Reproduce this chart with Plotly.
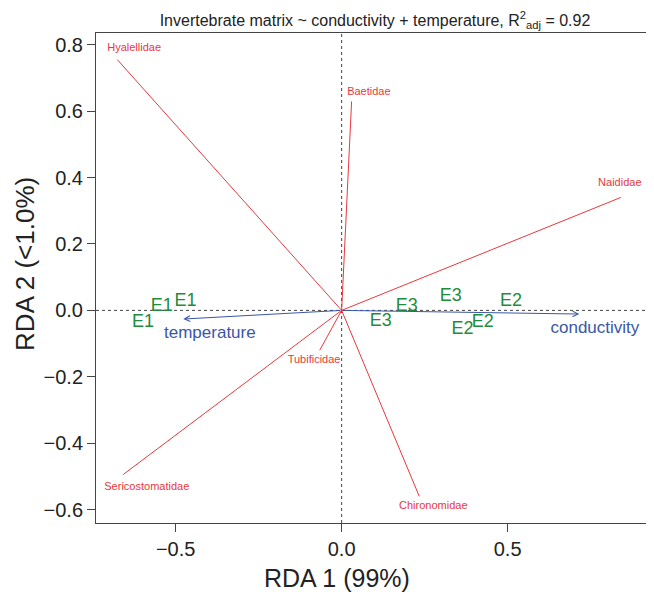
import plotly.graph_objects as go

# Species (response) loadings - red lines
species = ["Hyalellidae", "Baetidae", "Naididae", "Tubificidae", "Chironomidae", "Sericostomatidae"]
species_x = [-0.676, 0.030, 0.841, -0.066, 0.234, -0.658]
species_y = [0.755, 0.629, 0.340, -0.120, -0.560, -0.494]
species_label_x = [-0.625, 0.082, 0.838, -0.083, 0.276, -0.587]
species_label_y = [0.790, 0.658, 0.384, -0.150, -0.589, -0.532]

# Environmental vectors - blue arrows
env = ["conductivity", "temperature"]
env_x = [0.716, -0.477]
env_y = [-0.011, -0.026]
env_label_x = [0.763, -0.397]
env_label_y = [-0.054, -0.069]

# Site scores - green text
sites = ["E1", "E1", "E1", "E3", "E3", "E3", "E2", "E2", "E2"]
site_x = [-0.598, -0.542, -0.470, 0.329, 0.196, 0.118, 0.510, 0.425, 0.364]
site_y = [-0.037, 0.013, 0.026, 0.043, 0.013, -0.032, 0.026, -0.036, -0.059]

x_ticks = [-0.5, 0.0, 0.5]
x_ticklabels = ["\u22120.5", "0.0", "0.5"]
y_ticks = [0.8, 0.6, 0.4, 0.2, 0.0, -0.2, -0.4, -0.6]
y_ticklabels = ["0.8", "0.6", "0.4", "0.2", "0.0", "\u22120.2", "\u22120.4", "\u22120.6"]

x_title = "RDA 1 (99%)"
y_title = "RDA 2 (&lt;1.0%)"
main_title = "Invertebrate matrix ~ conductivity + temperature, R<sup>2</sup><sub>adj</sub> = 0.92"

RED = "#E8383D"
GREEN = "#1E8C3A"
BLUE = "#3A57A7"
FONT = "Liberation Sans, Arial, sans-serif"
TXT = "#222222"

fig = go.Figure()

# species lines
lx, ly = [], []
for sx, sy in zip(species_x, species_y):
    lx += [0, sx, None]
    ly += [0, sy, None]
fig.add_trace(go.Scatter(x=lx, y=ly, mode="lines", line=dict(color=RED, width=1),
                         hoverinfo="skip", showlegend=False))
fig.add_trace(go.Scatter(x=species_label_x, y=species_label_y, text=species, mode="text",
                         textfont=dict(color=RED, size=11, family=FONT),
                         showlegend=False))

# env arrows
for ex, ey in zip(env_x, env_y):
    fig.add_annotation(x=ex, y=ey, ax=0, ay=0, xref="x", yref="y", axref="x", ayref="y",
                       text="", showarrow=True, arrowhead=5, arrowsize=1.1, arrowwidth=1,
                       arrowcolor=BLUE, standoff=0, startstandoff=0)
fig.add_trace(go.Scatter(x=env_label_x, y=env_label_y, text=env, mode="text",
                         textfont=dict(color=BLUE, size=17, family=FONT),
                         showlegend=False))

# sites
fig.add_trace(go.Scatter(x=site_x, y=site_y, text=sites, mode="text",
                         textfont=dict(color=GREEN, size=18, family=FONT),
                         showlegend=False))

# dotted origin lines
fig.add_shape(type="line", xref="x", yref="paper", x0=0, x1=0, y0=0, y1=1,
              line=dict(color="#444444", width=1, dash="dot"), layer="below")
fig.add_shape(type="line", xref="paper", yref="y", x0=0, x1=1, y0=0, y1=0,
              line=dict(color="#444444", width=1, dash="dot"), layer="below")

# axis titles as annotations (positioned as in the reference)
fig.add_annotation(text=x_title, xref="paper", yref="paper", x=0.432, y=-0.113,
                   xanchor="center", yanchor="middle", showarrow=False,
                   font=dict(size=25, family=FONT, color=TXT))
fig.add_annotation(text=y_title, xref="paper", yref="paper", x=-0.127, y=0.529,
                   xanchor="center", yanchor="middle", showarrow=False, textangle=-90,
                   font=dict(size=26, family=FONT, color=TXT))

fig.update_layout(
    width=646, height=584,
    margin=dict(l=88, r=0, t=25, b=69),
    paper_bgcolor="white", plot_bgcolor="white",
    font=dict(family=FONT, color=TXT),
    title=dict(text=main_title,
               x=0.5, xanchor="center", xref="paper", y=0.979, yanchor="middle",
               font=dict(size=16, family=FONT, color=TXT)),
    xaxis=dict(range=[-0.740, 0.941], showgrid=False, zeroline=False,
               showline=True, linecolor="#444444", linewidth=1, mirror=True,
               ticks="outside", ticklen=8, tickcolor="#444444",
               tickvals=x_ticks, ticktext=x_ticklabels,
               tickfont=dict(size=20, family=FONT, color=TXT)),
    yaxis=dict(range=[-0.640, 0.835], showgrid=False, zeroline=False,
               showline=True, linecolor="#444444", linewidth=1,
               ticks="outside", ticklen=8, tickcolor="#444444",
               tickvals=y_ticks, ticktext=y_ticklabels,
               tickfont=dict(size=20, family=FONT, color=TXT)),
)

fig.write_html("out.html")
